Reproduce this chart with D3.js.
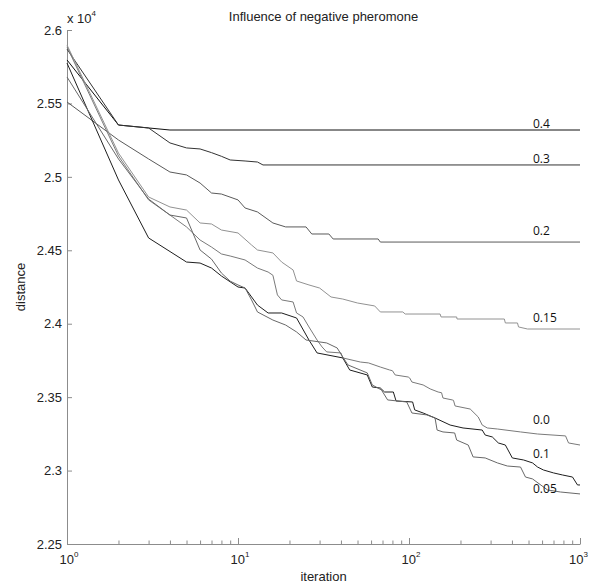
<!DOCTYPE html>
<html>
<head>
<meta charset="utf-8">
<script src="https://cdn.jsdelivr.net/npm/d3@7"></script>
<style>
  html, body { margin: 0; padding: 0; background: #fff; }
  svg { display: block; }
</style>
</head>
<body>
<svg id="chart" width="589" height="586"></svg>
<script>
// Best tour distance found so far, per iteration, for each negative-pheromone weight.
// Each entry is [iteration, distance].
const run04 = [[1,25796],[2,25353],[3,25333],[4,25319],[1000,25319]];

const run03 = [[1,25870],[2,25353],[3,25333],[4,25231],[5,25197],[6,25190],[7,25165],
  [8,25140],[9,25115],[11,25108],[13,25101],[14,25081],[1000,25081]];

const run02 = [[1,25510],[2,25251],[3,25122],[4,25033],[5,25013],[6,24958],[7,24890],
  [8,24883],[10,24843],[11,24788],[13,24761],[16,24686],[19,24659],[25,24659],
  [27,24611],[34,24611],[36,24577],[66,24577],[68,24556],[1000,24556]];

const run015 = [[1,25898],[2,25162],[3,24863],[4,24795],[5,24774],[6,24686],[7,24679],
  [8,24638],[10,24618],[12,24536],[13,24502],[16,24482],[18,24420],[21,24366],
  [22,24291],[26,24264],[30,24243],[35,24182],[41,24168],[50,24141],[63,24121],
  [68,24080],[92,24080],[95,24066],[152,24066],[154,24046],[190,24046],[191,24032],
  [361,24032],[366,24005],[431,24005],[437,23978],[493,23964],[1000,23964]];

const run00 = [[1,25885],[2,25142],[3,24843],[4,24740],[5,24659],[6,24570],[7,24522],
  [8,24475],[9,24461],[11,24434],[13,24379],[15,24352],[16,24330],[17,24196],
  [18,24162],[21,24148],[22,24073],[24,24046],[26,23978],[29,23889],[31,23842],
  [33,23808],[40,23801],[41,23767],[52,23739],[58,23733],[68,23705],[77,23685],
  [80,23680],[83,23651],[99,23637],[101,23630],[104,23603],[121,23583],[133,23556],
  [148,23535],[155,23530],[158,23494],[179,23481],[182,23478],[186,23440],[228,23419],
  [254,23365],[268,23310],[287,23290],[329,23283],[449,23263],[565,23249],[823,23236],
  [857,23188],[1000,23174]];

const run01 = [[1,25775],[2,24979],[3,24584],[5,24420],[6,24413],[7,24379],[8,24325],
  [10,24250],[11,24243],[13,24127],[15,24073],[18,24073],[22,24039],[26,23889],
  [29,23801],[41,23767],[45,23685],[57,23651],[61,23569],[68,23562],[72,23535],
  [81,23535],[84,23474],[105,23467],[108,23413],[121,23392],[142,23358],[174,23310],
  [207,23290],[268,23276],[279,23242],[307,23229],[333,23188],[366,23174],[402,23086],
  [468,23072],[528,23052],[565,23024],[611,23004],[700,22984],[790,22970],[904,22956],
  [967,22902],[1000,22902]];

const run005 = [[1,25680],[2,25122],[3,24849],[4,24740],[5,24720],[6,24502],[7,24440],
  [8,24345],[9,24290],[10,24264],[11,24243],[12,24162],[13,24080],[16,24025],
  [19,23991],[22,23944],[25,23889],[33,23869],[38,23835],[41,23773],[44,23719],
  [57,23665],[61,23583],[69,23549],[75,23481],[97,23467],[104,23392],[127,23379],
  [142,23358],[146,23276],[158,23263],[185,23256],[190,23208],[222,23174],[237,23093],
  [279,23086],[329,23052],[376,23031],[449,23024],[480,22956],[528,22943],[646,22868],
  [769,22854],[1000,22841]];

const weights = ["0.4", "0.3", "0.2", "0.15", "0.0", "0.1", "0.05"];
const runs = [run04, run03, run02, run015, run00, run01, run005];

const yTickValues = [22500, 23000, 23500, 24000, 24500, 25000, 25500, 26000];
const yTickLabels = ["2.25", "2.3", "2.35", "2.4", "2.45", "2.5", "2.55", "2.6"];
const xMajorTicks = [1, 10, 100, 1000];
const xMajorExponents = ["0", "1", "2", "3"];

// ---- drawing ----
const svg = d3.select("#chart");
const font = "'Liberation Sans', Arial, Helvetica, sans-serif";
const labelFont = "'Open Sans', 'Noto Sans', sans-serif";

const x = d3.scaleLog().domain([1, 1000]).range([67, 580]);
const y = d3.scaleLinear().domain([22500, 26000]).range([544, 30]);

const lineColors = ["#111111", "#333333", "#5a5a5a", "#929292", "#7a7a7a", "#1e1e1e", "#686868"];
// where each weight's name sits (distance at the text baseline)
const labelBaseline = [25333, 25094, 24604, 24012, 23317, 23086, 22847];

// minor log ticks 2..9 per decade
const xMinorTicks = [];
[1, 10, 100].forEach(d => { for (let k = 2; k <= 9; k++) xMinorTicks.push(d * k); });

const axisColor = "#8c8c8c";
const textColor = "#222";

// x axis
const gx = svg.append("g")
  .attr("transform", `translate(0,${y.range()[0]})`)
  .call(d3.axisBottom(x)
    .tickValues(xMajorTicks.concat(xMinorTicks))
    .tickSizeInner(-3.5)
    .tickSizeOuter(0)
    .tickFormat(() => ""));
gx.select(".domain").attr("stroke", axisColor);
gx.selectAll(".tick line").attr("stroke", axisColor)
  .filter(d => xMajorTicks.includes(d)).attr("y2", -6);

const xl = svg.append("g")
  .attr("font-family", font).attr("fill", textColor);
xMajorTicks.forEach((t, i) => {
  const last = i === xMajorTicks.length - 1;
  const txt = xl.append("text")
    .attr("x", last ? 588 : x(t) + 2)
    .attr("y", 564)
    .attr("text-anchor", last ? "end" : "middle")
    .attr("font-size", 13);
  txt.append("tspan").text("10");
  txt.append("tspan").attr("dy", -7).attr("font-size", 8).text(xMajorExponents[i]);
});

// y axis
const gy = svg.append("g")
  .attr("transform", `translate(${x.range()[0]},0)`)
  .call(d3.axisLeft(y)
    .tickValues(yTickValues)
    .tickSizeInner(-5)
    .tickSizeOuter(0)
    .tickPadding(5)
    .tickFormat((d, i) => yTickLabels[i]));
gy.select(".domain").attr("stroke", axisColor);
gy.selectAll(".tick line").attr("stroke", axisColor);
gy.selectAll(".tick text")
  .attr("font-family", font).attr("font-size", 13).attr("fill", textColor);

// exponent marker above the y axis
const ex = svg.append("text")
  .attr("x", 67).attr("y", 23)
  .attr("font-family", font).attr("font-size", 13).attr("fill", textColor);
ex.append("tspan").text("x 10");
ex.append("tspan").attr("dy", -7).attr("font-size", 8).text("4");

// titles
svg.append("text")
  .attr("x", (x.range()[0] + x.range()[1]) / 2).attr("y", 21)
  .attr("text-anchor", "middle")
  .attr("font-family", font).attr("font-size", 13).attr("fill", textColor)
  .text("Influence of negative pheromone");

svg.append("text")
  .attr("x", (x.range()[0] + x.range()[1]) / 2).attr("y", 581)
  .attr("text-anchor", "middle")
  .attr("font-family", font).attr("font-size", 13).attr("fill", textColor)
  .text("iteration");

svg.append("text")
  .attr("transform", `translate(25,${(y.range()[0] + y.range()[1]) / 2}) rotate(-90)`)
  .attr("text-anchor", "middle")
  .attr("font-family", font).attr("font-size", 13).attr("fill", textColor)
  .text("distance");

// convergence curves
const line = d3.line().x(d => x(d[0])).y(d => y(d[1]));
svg.append("g")
  .selectAll("path")
  .data(runs)
  .join("path")
  .attr("d", line)
  .attr("fill", "none")
  .attr("stroke", (d, i) => lineColors[i])
  .attr("stroke-width", 1);

// weight names at the right end of the curves
svg.append("g")
  .selectAll("text")
  .data(weights)
  .join("text")
  .attr("x", x(1000) - 47)
  .attr("y", (d, i) => y(labelBaseline[i]))
  .attr("font-family", labelFont)
  .attr("font-size", 12)
  .attr("fill", "#111")
  .text(d => d);
</script>
</body>
</html>
